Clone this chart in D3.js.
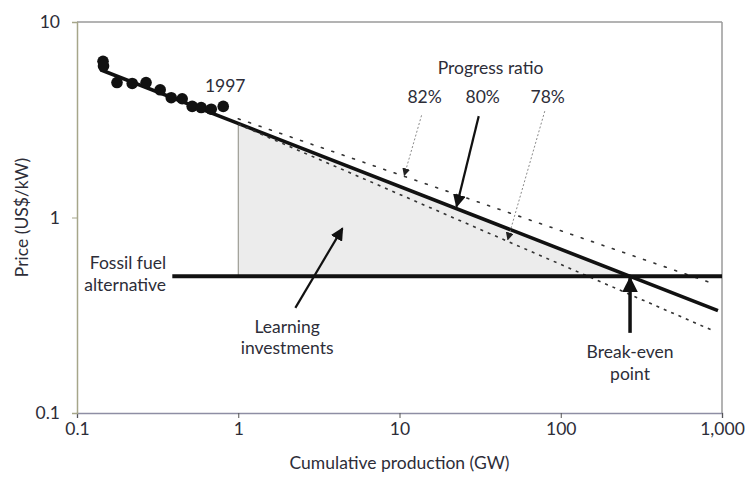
<!DOCTYPE html>
<html>
<head>
<meta charset="utf-8">
<script src="https://cdn.jsdelivr.net/npm/d3@7"></script>
<style>
  body { margin: 0; background: #fff; }
  svg text { font-family: Lato, "Open Sans", sans-serif; fill: #2d2d38; }
</style>
</head>
<body>
<div id="chart"></div>
<script>
// Observed prices (cumulative GW, US$/kW), up to 1997
const obsGW = [0.145, 0.146, 0.177, 0.22, 0.268, 0.328, 0.384, 0.449, 0.518, 0.589, 0.68, 0.807]
const obsPrice = [6.3, 5.95, 4.9, 4.85, 4.9, 4.5, 4.1, 4.05, 3.7, 3.65, 3.58, 3.7]

// Experience curves: endpoints
const curveNames = ["82%", "80%", "78%"]
const curveFrom = [[1, 3.2], [0.14, 5.7], [1, 3.0]]
const curveTo = [[850, 0.464], [944, 0.334], [860, 0.266]]

const fossilFrom = [0.39, 0.5]
const fossilTo = [1000, 0.5]
const breakEven = [269, 0.5]

const xTicks = [0.1, 1, 10, 100, 1000]
const xTickLabels = ["0.1", "1", "10", "100", "1,000"]
const yTicks = [0.1, 1, 10]
const yTickLabels = ["0.1", "1", "10"]

const width = 754
const height = 477
const margin = { top: 22, right: 32, bottom: 64, left: 77 }
const fontSize = "17.5px"

const svg = d3.select("#chart").append("svg")
  .attr("width", width).attr("height", height)

const x = d3.scaleLog().domain([0.1, 1000]).range([margin.left, width - margin.right])
const y = d3.scaleLog().domain([0.1, 10]).range([height - margin.bottom, margin.top])

const defs = svg.append("defs")
function marker(id, size, fill) {
  defs.append("marker")
    .attr("id", id)
    .attr("viewBox", "0 0 10 10")
    .attr("refX", 9).attr("refY", 5)
    .attr("markerWidth", size).attr("markerHeight", size)
    .attr("markerUnits", "userSpaceOnUse")
    .attr("orient", "auto")
    .append("path").attr("d", "M0,0 L10,5 L0,10 Z").attr("fill", fill)
}
marker("head", 13, "#111")
marker("headSmall", 8, "#222")
marker("headBig", 16, "#111")

// Learning investments area
const shade = [[1, 3.03], breakEven, [1, 0.5]]
svg.append("path")
  .attr("d", d3.line().x(d => x(d[0])).y(d => y(d[1]))(shade) + "Z")
  .attr("fill", "#ececec")
svg.append("line")
  .attr("x1", x(1)).attr("x2", x(1))
  .attr("y1", y(3.03)).attr("y2", y(0.5))
  .attr("stroke", "#8a8a80").attr("stroke-width", 1)

// frame
svg.append("line")
  .attr("x1", x(0.1)).attr("x2", x(1000)).attr("y1", y(10)).attr("y2", y(10))
  .attr("stroke", "#9a9a9a").attr("stroke-width", 1.5)
svg.append("line")
  .attr("x1", x(1000)).attr("x2", x(1000)).attr("y1", y(10)).attr("y2", y(0.1))
  .attr("stroke", "#9a9a9a").attr("stroke-width", 1.5)

const xAxis = svg.append("g")
  .attr("transform", `translate(0,${y(0.1)})`)
  .call(d3.axisBottom(x).tickValues(xTicks).tickFormat((d, i) => xTickLabels[i]).tickSize(5).tickPadding(5))
xAxis.select(".domain").attr("stroke", "#8e8ea4").attr("stroke-width", 1.5)
xAxis.selectAll(".tick line").attr("stroke", "#555")

const yAxis = svg.append("g")
  .attr("transform", `translate(${x(0.1)},0)`)
  .call(d3.axisLeft(y).tickValues(yTicks).tickFormat((d, i) => yTickLabels[i]).tickSize(5).tickPadding(12))
yAxis.select(".domain").attr("stroke", "#a6a68a").attr("stroke-width", 1.5)
yAxis.selectAll(".tick line").attr("stroke", "#a6a68a")

svg.selectAll(".tick text").attr("font-size", fontSize).attr("font-family", "Lato, sans-serif").attr("fill", "#2d2d38")

// curves
const curveStyle = [
  { w: 1.6, dash: "2,9", cap: "round" },
  { w: 3.6, dash: null, cap: "butt" },
  { w: 1.6, dash: "3,5", cap: "butt" }
]
curveNames.forEach((n, i) => {
  svg.append("line")
    .attr("x1", x(curveFrom[i][0])).attr("y1", y(curveFrom[i][1]))
    .attr("x2", x(curveTo[i][0])).attr("y2", y(curveTo[i][1]))
    .attr("stroke", i === 1 ? "#111" : "#333")
    .attr("stroke-width", curveStyle[i].w)
    .attr("stroke-dasharray", curveStyle[i].dash)
    .attr("stroke-linecap", curveStyle[i].cap)
})

// fossil fuel
svg.append("line")
  .attr("x1", x(fossilFrom[0])).attr("y1", y(fossilFrom[1]))
  .attr("x2", x(fossilTo[0])).attr("y2", y(fossilTo[1]))
  .attr("stroke", "#111").attr("stroke-width", 4)

// observed points
svg.selectAll("circle.obs")
  .data(obsGW.map((g, i) => [g, obsPrice[i]]))
  .enter().append("circle")
  .attr("class", "obs")
  .attr("cx", d => x(d[0])).attr("cy", d => y(d[1]))
  .attr("r", 5.8).attr("fill", "#111")

// annotation arrows
const arrows = [
  { from: [13.7, 3.33], to: [10.7, 1.64], dotted: true },
  { from: [31, 3.3], to: [22.6, 1.14], dotted: false },
  { from: [79.6, 3.5], to: [46.9, 0.77], dotted: true },
  { from: [2.26, 0.345], to: [4.43, 0.88], dotted: false },
  { from: [269, 0.257], to: [269, 0.49], dotted: false, big: true }
]
arrows.forEach(a => {
  svg.append("line")
    .attr("x1", x(a.from[0])).attr("y1", y(a.from[1]))
    .attr("x2", x(a.to[0])).attr("y2", y(a.to[1]))
    .attr("stroke", a.dotted ? "#8a8a8a" : "#111")
    .attr("stroke-width", a.dotted ? 1 : (a.big ? 3.5 : 2.2))
    .attr("stroke-dasharray", a.dotted ? "2,2" : null)
    .attr("marker-end", a.dotted ? "url(#headSmall)" : (a.big ? "url(#headBig)" : "url(#head)"))
})

// text labels [text, x, y, anchor]
const labels = [
  ["Progress ratio", 36.7, 5.41, "middle"],
  ["82%", 14.3, 3.85, "middle"],
  ["80%", 32.8, 3.85, "middle"],
  ["78%", 83, 3.85, "middle"],
  ["1997", 0.83, 4.4, "middle"],
  ["Fossil fuel", 0.357, 0.548, "end"],
  ["alternative", 0.357, 0.422, "end"],
  ["Learning", 2.01, 0.258, "middle"],
  ["investments", 2.01, 0.2, "middle"],
  ["Break-even", 269, 0.192, "middle"],
  ["point", 269, 0.147, "middle"]
]
labels.forEach(([t, lx, ly, anchor]) => {
  svg.append("text")
    .attr("x", x(lx)).attr("y", y(ly))
    .attr("text-anchor", anchor)
    .attr("font-size", fontSize)
    .text(t)
})

// axis titles
svg.append("text")
  .attr("x", (x(0.1) + x(1000)) / 2 + 0).attr("y", 469)
  .attr("text-anchor", "middle").attr("font-size", fontSize)
  .text("Cumulative production (GW)")
svg.append("text")
  .attr("transform", `translate(28,${y(1)}) rotate(-90)`)
  .attr("text-anchor", "middle").attr("font-size", fontSize)
  .text("Price (US$/kW)")
</script>
</body>
</html>
